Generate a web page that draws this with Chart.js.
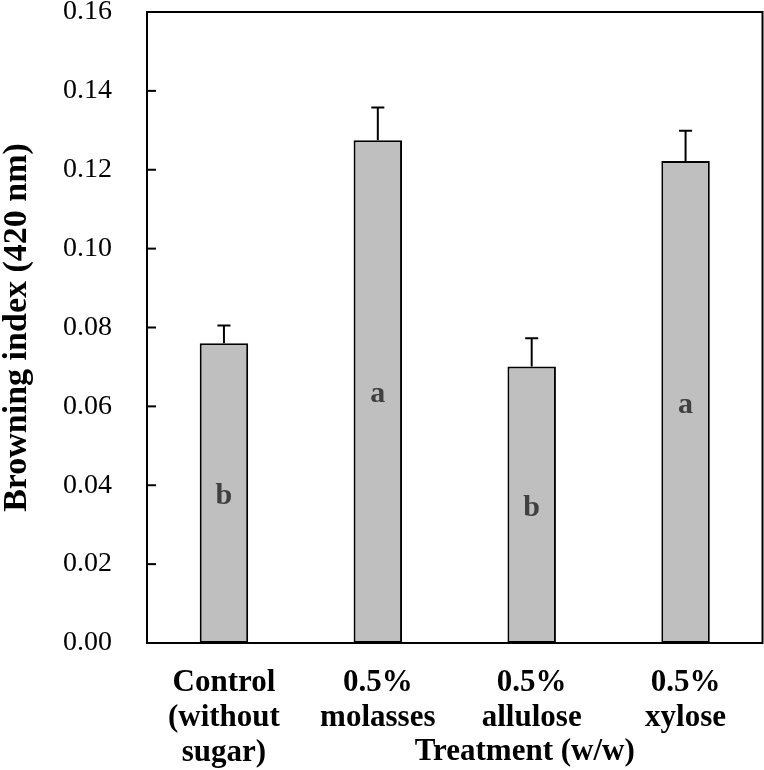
<!DOCTYPE html>
<html>
<head>
<meta charset="utf-8">
<script src="https://cdn.jsdelivr.net/npm/chart.js@4/dist/chart.umd.min.js"></script>
<style>
  html, body { margin: 0; padding: 0; background: #ffffff; }
  #wrap { width: 764px; height: 770px; position: relative; }
</style>
</head>
<body>
<div id="wrap"><canvas id="c" width="764" height="770"></canvas></div>
<script>
const categories = [["Control", "(without", "sugar)"], ["0.5%", "molasses"], ["0.5%", "allulose"], ["0.5%", "xylose"]];
const browningIndex = [0.0760, 0.1275, 0.0701, 0.1222];
const errorValues = [0.0045, 0.0083, 0.0072, 0.0077];
const groupLetters = ["b", "a", "b", "a"];
const yMin = 0, yMax = 0.16, yStep = 0.02;
const yTitle = "Browning index (420 nm)";
const xTitle = "Treatment (w/w)";

const SERIF = '"Liberation Serif", "Times New Roman", serif';

const decorPlugin = {
  id: 'decor',
  afterDatasetsDraw(chart) {
    const ctx = chart.ctx;
    const area = chart.chartArea;
    const ys = chart.scales.y;
    const meta = chart.getDatasetMeta(0);
    ctx.save();
    // error bars (upper only)
    ctx.strokeStyle = '#000';
    ctx.lineWidth = 2;
    meta.data.forEach((bar, i) => {
      const x = bar.x;
      const yTop = ys.getPixelForValue(browningIndex[i]);
      const yErr = ys.getPixelForValue(browningIndex[i] + errorValues[i]);
      ctx.beginPath();
      ctx.moveTo(x, yTop);
      ctx.lineTo(x, yErr);
      ctx.moveTo(x - 6.5, yErr);
      ctx.lineTo(x + 6.5, yErr);
      ctx.stroke();
    });
    // letters
    ctx.fillStyle = '#404040';
    ctx.font = 'bold 30px ' + SERIF;
    ctx.textAlign = 'center';
    ctx.textBaseline = 'middle';
    meta.data.forEach((bar, i) => {
      const yMid = ys.getPixelForValue(browningIndex[i] / 2);
      ctx.fillText(groupLetters[i], bar.x, yMid + 3);
    });
    // frame
    ctx.strokeStyle = '#000';
    ctx.lineWidth = 2;
    ctx.strokeRect(area.left, area.top, area.right - area.left, area.bottom - area.top);
    // inward y ticks
    ys.ticks.forEach(t => {
      const y = ys.getPixelForValue(t.value);
      ctx.beginPath();
      ctx.moveTo(area.left, y);
      ctx.lineTo(area.left + 9, y);
      ctx.stroke();
    });
    // x title
    ctx.fillStyle = '#000';
    ctx.font = 'bold 31px ' + SERIF;
    ctx.textAlign = 'center';
    ctx.textBaseline = 'middle';
    ctx.fillText(xTitle, (area.left + area.right) / 2 + 70, area.bottom + 109);
    ctx.restore();
  }
};

new Chart(document.getElementById('c'), {
  type: 'bar',
  data: {
    labels: categories,
    datasets: [{
      data: browningIndex,
      backgroundColor: '#BFBFBF',
      borderColor: '#000',
      borderWidth: 2,
      borderSkipped: false,
      categoryPercentage: 1.0,
      barPercentage: 0.315
    }]
  },
  options: {
    responsive: false,
    animation: false,
    devicePixelRatio: 1,
    layout: { padding: { left: 0, right: 1.5, top: 12, bottom: 0 } },
    plugins: { legend: { display: false }, tooltip: { enabled: false } },
    scales: {
      x: {
        offset: true,
        grid: { display: false, drawTicks: false },
        border: { display: false },
        ticks: {
          color: '#000',
          padding: 22,
          maxRotation: 0,
          autoSkip: false,
          font: { family: SERIF, size: 31, weight: 'bold', lineHeight: 35 / 31 }
        },
        afterFit(scale) { scale.height = 127; scale.paddingLeft = 0; scale.paddingRight = 0; }
      },
      y: {
        min: yMin,
        max: yMax,
        grid: { display: false, drawTicks: false },
        border: { display: false },
        ticks: {
          stepSize: yStep,
          color: '#000',
          padding: 35,
          font: { family: SERIF, size: 28 },
          callback: v => Number(v).toFixed(2)
        },
        title: {
          display: true,
          text: yTitle,
          color: '#000',
          padding: { top: 0, bottom: 0 },
          font: { family: SERIF, size: 34, weight: 'bold', lineHeight: 1.0 }
        },
        afterFit(scale) { scale.width = 147; scale.paddingTop = 0; scale.paddingBottom = 0; }
      }
    }
  },
  plugins: [decorPlugin]
});
</script>
</body>
</html>
